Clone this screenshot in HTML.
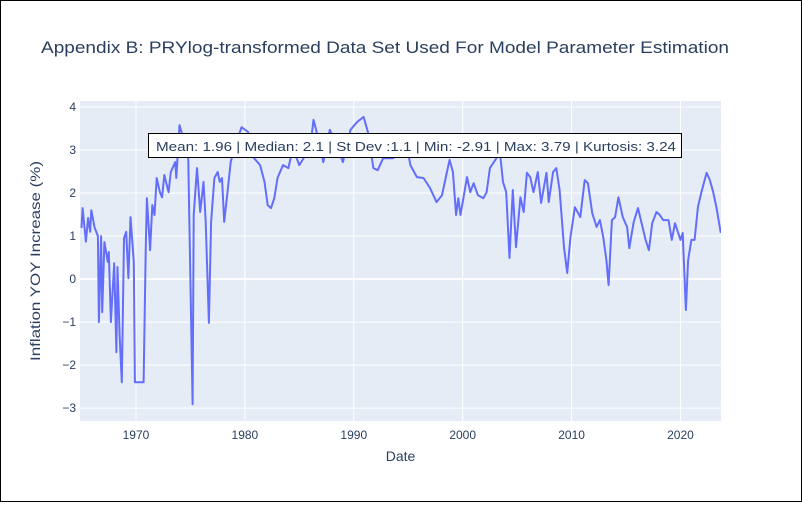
<!DOCTYPE html>
<html><head><meta charset="utf-8"><style>
body{margin:0;background:#fff}
#wrap{position:relative;width:800px;height:500px;border:1px solid #000;font-family:"Liberation Sans",Arial,sans-serif}
svg text{font-family:"Liberation Sans",Arial,sans-serif}
</style></head><body>
<div id="wrap">
<svg id="chart" width="800" height="500"></svg>
</div>
<script>
const years=[1965.0,1965.1,1965.4,1965.6,1965.8,1965.9,1966.2,1966.5,1966.6,1966.8,1966.9,1967.1,1967.4,1967.5,1967.7,1968.0,1968.2,1968.3,1968.5,1968.7,1968.9,1969.1,1969.3,1969.5,1969.8,1969.9,1970.7,1970.9,1971.0,1971.3,1971.5,1971.7,1971.9,1972.2,1972.4,1972.6,1973.0,1973.2,1973.6,1973.7,1974.0,1974.8,1975.2,1975.3,1975.6,1975.9,1976.2,1976.4,1976.7,1976.9,1977.2,1977.5,1977.7,1977.9,1978.1,1978.4,1978.7,1979.1,1979.7,1980.3,1980.6,1981.4,1981.8,1982.1,1982.4,1982.7,1983.0,1983.5,1984.0,1984.4,1985.0,1986.0,1986.3,1986.5,1987.2,1987.8,1988.4,1989.0,1989.7,1990.3,1990.9,1991.3,1991.8,1992.2,1992.7,1993.6,1994.9,1995.2,1995.8,1996.4,1997.0,1997.6,1998.1,1998.5,1998.8,1999.1,1999.4,1999.6,1999.8,2000.4,2000.7,2001.0,2001.4,2001.9,2002.2,2002.5,2003.1,2003.4,2003.7,2004.0,2004.3,2004.6,2004.9,2005.3,2005.6,2005.9,2006.2,2006.5,2006.9,2007.2,2007.7,2007.9,2008.3,2008.6,2008.9,2009.3,2009.6,2009.9,2010.3,2010.8,2011.2,2011.5,2011.9,2012.3,2012.6,2012.9,2013.2,2013.4,2013.7,2014.0,2014.3,2014.7,2015.1,2015.3,2015.7,2016.1,2016.4,2016.8,2017.1,2017.4,2017.8,2018.1,2018.4,2018.9,2019.2,2019.5,2020.0,2020.2,2020.5,2020.7,2021.0,2021.3,2021.6,2021.9,2022.4,2022.7,2023.0,2023.3,2023.7];
const values=[1.19,1.65,0.87,1.42,1.1,1.6,1.2,1.0,-1.0,1.0,-0.77,0.86,0.4,0.63,-1.0,0.37,-1.7,0.28,-1.3,-2.4,0.95,1.1,0.02,1.44,0.4,-2.4,-2.4,0.79,1.88,0.67,1.72,1.49,2.35,2.02,1.9,2.42,2.02,2.49,2.72,2.35,3.58,2.88,-2.91,1.49,2.58,1.56,2.26,1.33,-1.02,1.33,2.35,2.49,2.26,2.35,1.33,2.02,2.72,3.1,3.53,3.42,2.88,2.65,2.26,1.72,1.65,1.88,2.35,2.65,2.58,3.05,2.65,3.05,3.7,3.51,2.72,3.47,3.12,2.72,3.47,3.65,3.77,3.42,2.58,2.53,2.81,2.81,3.05,2.65,2.37,2.35,2.12,1.79,1.95,2.42,2.77,2.49,1.49,1.88,1.49,2.37,2.02,2.23,1.95,1.88,2.02,2.58,2.81,3.0,2.26,2.02,0.49,2.07,0.74,1.9,1.56,2.47,2.37,2.02,2.49,1.77,2.47,1.79,2.49,2.58,2.07,0.74,0.14,0.98,1.67,1.44,2.3,2.23,1.53,1.21,1.37,0.98,0.44,-0.14,1.37,1.44,1.9,1.44,1.21,0.72,1.33,1.65,1.33,0.91,0.67,1.3,1.56,1.49,1.37,1.37,0.91,1.3,0.91,1.07,-0.72,0.44,0.91,0.91,1.67,2.0,2.47,2.3,2.02,1.67,1.07];
const xTicks=[1970,1980,1990,2000,2010,2020];
const yTicks=[-3,-2,-1,0,1,2,3,4];

const svg=document.getElementById('chart');
const NS='http://www.w3.org/2000/svg';
const L=79,R=720,T=100,B=420;
const x0=1964.86,x1=2023.72,y0=-3.3,y1=4.14;
const xs=v=>L+(v-x0)/(x1-x0)*(R-L);
const ys=v=>B-(v-y0)/(y1-y0)*(B-T);
function mk(tag,attrs,parent){const e=document.createElementNS(NS,tag);for(const k in attrs)e.setAttribute(k,attrs[k]);(parent||svg).appendChild(e);return e;}

const bg=mk('rect',{x:L,y:T,width:R-L,height:B-T,fill:'#e5ecf6'});



xTicks.forEach(t=>{
  const g=mk('line',{x1:xs(t),x2:xs(t),y1:T,y2:B,stroke:'#fff','stroke-width':1});
  
  
  const tx=mk('text',{x:xs(t),y:B+18,'text-anchor':'middle','font-size':12,fill:'#2a3f5f'});
  tx.textContent=t;
  
  
});
yTicks.forEach(t=>{
  const g=mk('line',{x1:L,x2:R,y1:ys(t),y2:ys(t),stroke:'#fff','stroke-width':t===0?2:1});
  
  
  const tx=mk('text',{x:L-4,y:ys(t)+4,'text-anchor':'end','font-size':12,fill:'#2a3f5f'});
  tx.textContent=t<0?'\u2212'+Math.abs(t):t;
  
  
});

const clip=mk('clipPath',{id:'c'});
mk('rect',{x:L,y:T,width:R-L,height:B-T},clip);
const d=years.map((y,i)=>(i?'L':'M')+xs(y).toFixed(1)+','+ys(values[i]).toFixed(1)).join('');
const line=mk('path',{d:d,fill:'none',stroke:'#636efa','stroke-width':2,'stroke-linejoin':'round','clip-path':'url(#c)'});



const box=mk('rect',{x:147.5,y:132.5,width:533,height:24,fill:'#fff',stroke:'#000','stroke-width':1});


const st=mk('text',{x:155,y:150,'font-size':13,fill:'#2a3f5f',textLength:520,lengthAdjust:'spacingAndGlyphs'});
st.textContent='Mean: 1.96 | Median: 2.1 | St Dev :1.1 | Min: -2.91 | Max: 3.79 | Kurtosis: 3.24';



const title=mk('text',{x:40,y:52,'font-size':17,fill:'#2a3f5f',textLength:688,lengthAdjust:'spacingAndGlyphs'});
title.textContent='Appendix B: PRYlog-transformed Data Set Used For Model Parameter Estimation';



const xt=mk('text',{x:(L+R)/2,y:460,'text-anchor':'middle','font-size':14,fill:'#2a3f5f'});
xt.textContent='Date';



const yt=mk('text',{x:-100,y:0,'font-size':14,fill:'#2a3f5f',textLength:200,lengthAdjust:'spacingAndGlyphs',transform:'translate(39,'+((T+B)/2)+') rotate(-90)'});
yt.textContent='Inflation YOY Increase (%)';


</script>
</body></html>
